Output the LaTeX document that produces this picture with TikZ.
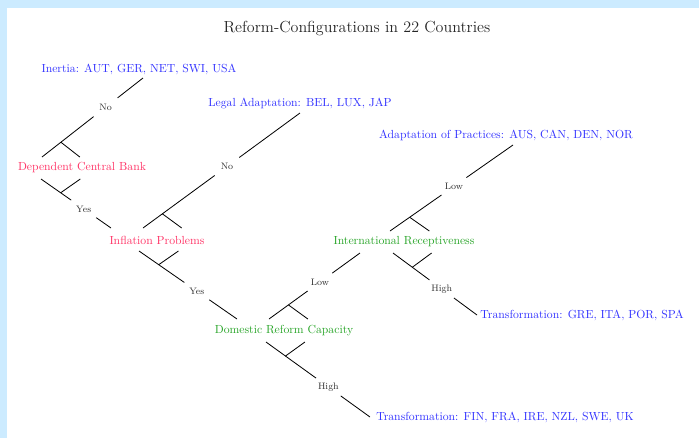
\documentclass[tikz,border=0pt]{standalone}
\usetikzlibrary{calc}
\definecolor{framebg}{RGB}{204,235,255}
\definecolor{outblue}{RGB}{51,51,255}
\definecolor{condred}{RGB}{255,51,102}
\definecolor{ctxgreen}{RGB}{40,165,40}
\tikzset{outc/.style={text=outblue, font=\fontsize{10}{12}\selectfont, inner sep=1pt},
  cond/.style={text=condred, font=\fontsize{10}{12}\selectfont, inner sep=1pt},
  ctx/.style={text=ctxgreen, font=\fontsize{10}{12}\selectfont, inner sep=1pt},
  el/.style={circle, inner sep=0pt, minimum size=0.9cm, text=black!80, font=\fontsize{8}{9}\selectfont},
  br/.style={line width=0.7pt}}
% short mirrored stroke at the foot of a branch
\newcommand{\brtick}[2]{\draw[br] let \p1=($(#1)!0.72cm!(#2)$), \p2=(#1) in (\p1) -- ({2*\x1-\x2},\y2);}

\begin{document}
\begin{tikzpicture}[x=0.03cm, y=-0.03cm]
                \fill[framebg] (0,0) rectangle (699,438);
                \fill[white] (7,8) rectangle (699,438);
                \useasboundingbox (0,0) rectangle (699,438);
                \node[font=\fontsize{13.7}{16}\selectfont, text=black!85] (title) at (357,28) {Reform-Configurations in 22 Countries};
                % outcomes
                \node[outc] (inertia) at (139,69) {Inertia: AUT, GER, NET, SWI, USA};
                \node[outc] (legal) at (300,104) {Legal Adaptation: BEL, LUX, JAP};
                \node[outc] (adapt) at (506,135) {Adaptation of Practices: AUS, CAN, DEN, NOR};
                \node[outc] (transA) at (582,315) {Transformation: GRE, ITA, POR, SPA};
                \node[outc] (transB) at (505,417) {Transformation: FIN, FRA, IRE, NZL, SWE, UK};
                % conditions
                \node[cond] (dcb) at (82,168) {Dependent Central Bank};
                \node[cond] (infl) at (157,240) {Inflation Problems};
                \node[ctx] (drc) at (284,331) {Domestic Reform Capacity};
                \node[ctx] (intr) at (404,242) {International Receptiveness};
                % branch ends
                \coordinate (dcb-up) at (42,157);
                \coordinate (dcb-dn) at (41,179);
                \coordinate (infl-in) at (111,228);
                \coordinate (infl-up) at (143,228);
                \coordinate (infl-dn) at (139,251);
                \coordinate (drc-in) at (237,319);
                \coordinate (drc-up) at (269,319);
                \coordinate (drc-dn) at (266,342);
                \coordinate (intr-in) at (360,253);
                \coordinate (intr-up) at (390,231);
                \coordinate (intr-dn) at (393,253);
                \coordinate (inertia-in) at (143,78);
                \coordinate (legal-in) at (300,113);
                \coordinate (adapt-in) at (513,145);
                \coordinate (transA-in) at (477,315);
                \coordinate (transB-in) at (370,417);
                % branch labels
                \node[el] (no1) at ($(dcb-up)!.63!(inertia-in)$) {No};
                \node[el] (yes1) at ($(dcb-dn)!.61!(infl-in)$) {Yes};
                \node[el] (no2) at ($(infl-up)!.535!(legal-in)$) {No};
                \node[el] (yes2) at ($(infl-dn)!.59!(drc-in)$) {Yes};
                \node[el] (low1) at ($(drc-up)!.56!(intr-in)$) {Low};
                \node[el] (high1) at ($(drc-dn)!.6!(transB-in)$) {High};
                \node[el] (low2) at ($(intr-up)!.52!(adapt-in)$) {Low};
                \node[el] (high2) at ($(intr-dn)!.58!(transA-in)$) {High};
                \draw[br] (dcb-up) -- (no1) (no1) -- (inertia-in);
                \draw[br] (dcb-dn) -- (yes1) (yes1) -- (infl-in);
                \draw[br] (infl-up) -- (no2) (no2) -- (legal-in);
                \draw[br] (infl-dn) -- (yes2) (yes2) -- (drc-in);
                \draw[br] (drc-up) -- (low1) (low1) -- (intr-in);
                \draw[br] (drc-dn) -- (high1) (high1) -- (transB-in);
                \draw[br] (intr-up) -- (low2) (low2) -- (adapt-in);
                \draw[br] (intr-dn) -- (high2) (high2) -- (transA-in);
                \brtick{dcb-up}{inertia-in}
                \brtick{dcb-dn}{infl-in}
                \brtick{infl-up}{legal-in}
                \brtick{infl-dn}{drc-in}
                \brtick{drc-up}{intr-in}
                \brtick{drc-dn}{transB-in}
                \brtick{intr-up}{adapt-in}
                \brtick{intr-dn}{transA-in}
            \end{tikzpicture}
\end{document}
